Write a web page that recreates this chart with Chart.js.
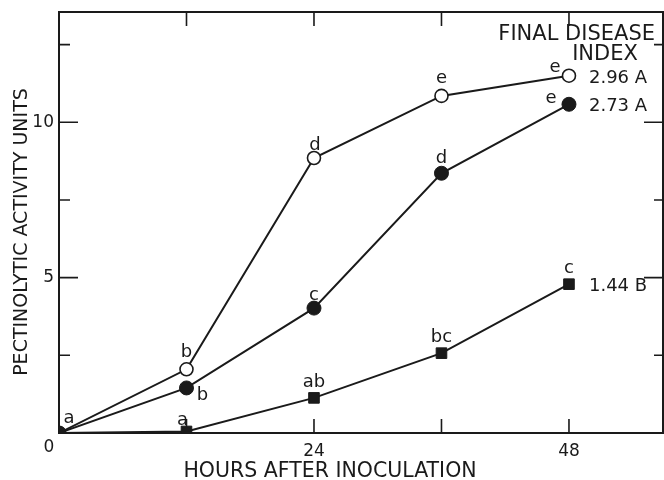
<!DOCTYPE html>
<html>
<head>
<meta charset="utf-8">
<script src="https://cdn.jsdelivr.net/npm/chart.js@4/dist/chart.umd.min.js"></script>
<style>
  html, body { margin: 0; padding: 0; background: #fff; }
  #wrap { width: 664px; height: 480px; }
</style>
</head>
<body>
<div id="wrap"><canvas id="chart" width="664" height="480"></canvas></div>
<script>
// values
const hours = [0, 12, 24, 36, 48];
const openCircle = [0, 2.05, 8.85, 10.85, 11.5];
const filledCircle = [0, 1.45, 4.02, 8.36, 10.58];
const squares = [0, 0.05, 1.13, 2.57, 4.79];

// significance letters above each point
const openLetters = ['a', 'b', 'd', 'e', 'e'];
const filledLetters = ['', 'b', 'c', 'd', 'e'];
const squareLetters = ['', 'a', 'ab', 'bc', 'c'];

// final disease index, one per series
const finalIndex = ['2.96 A', '2.73 A', '1.44 B'];

const xTickLabels = [24, 48];
const yTickLabels = [5, 10];
const xMajor = [12, 24, 36, 48];

const INK = '#1a1a1a';
const FONT = '"DejaVu Sans", sans-serif';

// label offsets (px) relative to each point: [dx, dy to baseline]
const openOffsets = [[10, -10], [0, -12], [1, -8], [0, -13], [-14, -4]];
const filledOffsets = [[0, 0], [16, 12], [0, -8], [0, -10], [-18, -1]];
const squareOffsets = [[0, 0], [-4, -6], [0, -11], [0, -11], [0, -11]];

const pts = (ys) => hours.map((h, i) => ({ x: h, y: ys[i] }));

const decorations = {
  id: 'decorations',
  beforeDatasetsDraw(chart) {
    const { ctx, chartArea: a, scales: { x, y } } = chart;
    ctx.save();
    ctx.strokeStyle = INK;
    ctx.lineWidth = 2;
    ctx.strokeRect(a.left, a.top, a.right - a.left, a.bottom - a.top);
    ctx.lineWidth = 1.6;
    ctx.beginPath();
    xMajor.forEach(v => {
      const px = x.getPixelForValue(v);
      ctx.moveTo(px, a.bottom); ctx.lineTo(px, a.bottom - 14);
      ctx.moveTo(px, a.top); ctx.lineTo(px, a.top + 14);
    });
    y.ticks.forEach(t => {
      if (t.value === 0) return;
      const py = y.getPixelForValue(t.value);
      const major = yTickLabels.includes(t.value);
      ctx.moveTo(a.left, py); ctx.lineTo(a.left + (major ? 19 : 11), py);
      ctx.moveTo(a.right, py); ctx.lineTo(a.right - (major ? 19 : 9), py);
    });
    ctx.stroke();
    ctx.restore();
  },
  afterDraw(chart) {
    const { ctx, chartArea: a, scales: { x, y } } = chart;
    ctx.save();
    ctx.fillStyle = INK;

    // corner zero
    ctx.font = '17px ' + FONT;
    ctx.textAlign = 'center';
    ctx.textBaseline = 'middle';
    ctx.fillText('0', a.left - 10, a.bottom + 15);

    // axis titles
    ctx.font = '20.5px ' + FONT;
    ctx.textBaseline = 'alphabetic';
    ctx.fillText('HOURS AFTER INOCULATION', 330, a.bottom + 44);
    ctx.save();
    ctx.translate(27, 232);
    ctx.rotate(-Math.PI / 2);
    ctx.font = '19px ' + FONT;
    ctx.fillText('PECTINOLYTIC ACTIVITY UNITS', 0, 0);
    ctx.restore();

    // header over the index column
    ctx.font = '21px ' + FONT;
    ctx.textAlign = 'right';
    ctx.fillText('FINAL DISEASE', a.right - 8, a.top + 28);
    ctx.textAlign = 'center';
    ctx.fillText('INDEX', a.right - 58, a.top + 48);

    // point letters
    ctx.font = '18px ' + FONT;
    const sets = [
      [openCircle, openLetters, openOffsets],
      [filledCircle, filledLetters, filledOffsets],
      [squares, squareLetters, squareOffsets],
    ];
    sets.forEach(([ys, letters, offs]) => {
      letters.forEach((l, i) => {
        if (!l) return;
        const px = x.getPixelForValue(hours[i]);
        const py = y.getPixelForValue(ys[i]);
        ctx.fillText(l, px + offs[i][0], py + offs[i][1]);
      });
    });

    // final disease index next to last points
    ctx.textAlign = 'left';
    [openCircle, filledCircle, squares].forEach((ys, k) => {
      const last = ys.length - 1;
      const px = x.getPixelForValue(hours[last]);
      const py = y.getPixelForValue(ys[last]);
      ctx.fillText(finalIndex[k], px + 20, py + 7);
    });
    ctx.restore();
  }
};

new Chart(document.getElementById('chart'), {
  type: 'line',
  data: {
    datasets: [
      {
        label: 'open',
        data: pts(openCircle),
        order: 1,
        borderColor: INK,
        borderWidth: 2,
        pointStyle: 'circle',
        pointRadius: 6.5,
        pointBorderWidth: 1.6,
        pointBackgroundColor: '#fff',
        pointBorderColor: INK,
      },
      {
        label: 'filled',
        data: pts(filledCircle),
        order: 0,
        borderColor: INK,
        borderWidth: 2,
        pointStyle: 'circle',
        pointRadius: 7,
        pointBorderWidth: 1,
        pointBackgroundColor: INK,
        pointBorderColor: INK,
      },
      {
        label: 'square',
        data: pts(squares),
        order: 2,
        borderColor: INK,
        borderWidth: 2,
        pointStyle: 'rect',
        pointRadius: [0, 7.5, 7.5, 7.5, 7.5],
        pointBorderWidth: 1,
        pointBackgroundColor: INK,
        pointBorderColor: INK,
      },
    ]
  },
  options: {
    responsive: false,
    animation: false,
    devicePixelRatio: 1,
    layout: { autoPadding: false, padding: { left: 0, top: 12, right: 1, bottom: 0 } },
    plugins: { legend: { display: false }, tooltip: { enabled: false } },
    elements: { line: { tension: 0 } },
    scales: {
      x: {
        type: 'linear',
        min: 0,
        max: 56.85,
        grid: { display: false, drawTicks: false },
        border: { display: false },
        ticks: {
          stepSize: 12,
          includeBounds: false,
          padding: 8,
          color: INK,
          font: { family: FONT, size: 17 },
          callback: (v) => xTickLabels.includes(v) ? String(v) : '',
          maxRotation: 0,
        },
        afterFit: (s) => { s.height = 47; s.paddingLeft = 0; s.paddingRight = 0; },
      },
      y: {
        min: 0,
        max: 13.55,
        grid: { display: false, drawTicks: false },
        border: { display: false },
        ticks: {
          stepSize: 2.5,
          includeBounds: false,
          padding: 5,
          color: INK,
          font: { family: FONT, size: 17 },
          callback: (v) => yTickLabels.includes(v) ? String(v) : '',
        },
        afterFit: (s) => { s.width = 59; s.paddingTop = 0; s.paddingBottom = 0; },
      },
    },
  },
  plugins: [decorations],
});
</script>
</body>
</html>
